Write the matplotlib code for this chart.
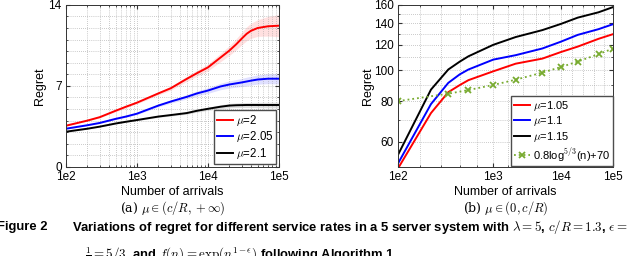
import numpy as np
import matplotlib
matplotlib.use("Agg")
import matplotlib.pyplot as plt
from matplotlib.ticker import FixedLocator, NullFormatter

plt.rcParams["font.family"] = ["Liberation Sans", "DejaVu Sans"]
plt.rcParams["mathtext.fontset"] = "cm"

# ---- left panel: mu in (c/R, +inf) ----
n_left = [100, 200, 300, 500, 700, 1000, 2000, 3000, 5000, 7000, 10000, 15000,
          20000, 25000, 30000, 35000, 40000, 50000, 70000, 100000]
reg_mu2 = [3.56, 4.0, 4.3, 4.85, 5.2, 5.55, 6.35, 6.8, 7.6, 8.1, 8.6, 9.45,
           10.05, 10.6, 11.1, 11.5, 11.75, 12.0, 12.15, 12.2]
err_mu2 = [0.04, 0.05, 0.06, 0.08, 0.09, 0.1, 0.14, 0.17, 0.22, 0.26, 0.3, 0.36,
           0.42, 0.48, 0.54, 0.6, 0.65, 0.72, 0.85, 0.95]
reg_mu205 = [3.3, 3.6, 3.8, 4.15, 4.35, 4.6, 5.3, 5.65, 6.05, 6.35, 6.6, 6.95,
             7.12, 7.22, 7.3, 7.38, 7.45, 7.55, 7.62, 7.62]
err_mu205 = [0.03, 0.04, 0.05, 0.06, 0.07, 0.08, 0.11, 0.14, 0.18, 0.21, 0.24, 0.28,
             0.31, 0.33, 0.35, 0.37, 0.38, 0.4, 0.43, 0.45]
reg_mu21 = [3.04, 3.3, 3.48, 3.75, 3.9, 4.05, 4.35, 4.48, 4.65, 4.85, 5.02, 5.2,
            5.3, 5.33, 5.34, 5.35, 5.35, 5.35, 5.35, 5.35]
err_mu21 = [0.02, 0.03, 0.03, 0.04, 0.05, 0.05, 0.07, 0.08, 0.1, 0.12, 0.14, 0.17,
            0.19, 0.2, 0.21, 0.22, 0.22, 0.23, 0.24, 0.25]

# ---- right panel: mu in (0, c/R) ----
n_right = [100, 200, 300, 400, 500, 1000, 2000, 5000, 10000, 20000, 50000, 100000]
reg_mu105 = [49.5, 73.6, 85.5, 90.0, 93.2, 99.3, 104.9, 108.8, 114.0, 118.6, 125.4, 129.7]
reg_mu11 = [51.3, 78.5, 91.4, 97.2, 100.6, 108.0, 111.5, 117.0, 122.8, 129.0, 134.4, 139.3]
reg_mu115 = [54.6, 87.1, 100.6, 106.5, 110.6, 120.1, 127.0, 133.5, 139.5, 146.0, 151.7, 157.5]
n_bound = [100, 300, 500, 1000, 2000, 5000, 10000, 20000, 50000, 100000]
reg_bound = [80.19, 84.57, 86.81, 90.04, 93.50, 98.42, 102.36, 106.52, 112.34, 116.94]

tick_labels = ["1e2", "1e3", "1e4", "1e5"]
green = (0.47, 0.67, 0.19)
grid_kw = dict(color="0.6", linestyle=(0, (1, 2)), linewidth=0.5)

fig = plt.figure(figsize=(6.4, 2.56), dpi=100)
ax1 = fig.add_axes([0.103, 0.348, 0.333, 0.633])
ax2 = fig.add_axes([0.622, 0.348, 0.336, 0.633])

# left
for y, e, c, lab in [(reg_mu2, err_mu2, "red", r"$\mu$=2"),
                     (reg_mu205, err_mu205, "blue", r"$\mu$=2.05"),
                     (reg_mu21, err_mu21, "black", r"$\mu$=2.1")]:
    y = np.array(y)
    e = np.array(e)
    ax1.fill_between(n_left, y - e, y + e, color=c, alpha=0.12, linewidth=0)
    ax1.plot(n_left, y, color=c, linewidth=1.4, label=lab)
ax1.set_xscale("log")
ax1.set_xlim(1e2, 1e5)
ax1.set_ylim(0, 14)
ax1.set_xticks([1e2, 1e3, 1e4, 1e5])
ax1.set_xticklabels(tick_labels)
ax1.set_yticks([0, 7, 14])
ax1.yaxis.set_minor_locator(FixedLocator(np.arange(1, 14)))
ax1.grid(True, which="both", **grid_kw)
ax1.set_xlabel("Number of arrivals", fontsize=9, labelpad=2)
ax1.set_ylabel("Regret", fontsize=9, labelpad=2)
ax1.legend(loc="lower right", fontsize=8.3, handlelength=1.4, borderaxespad=0.25,
           fancybox=False, edgecolor="0.3", framealpha=1, borderpad=0.25,
           labelspacing=0.15, handletextpad=0.2)

# right (x-axis drawn against log10(n) on a log scale)
lx = np.log10(n_right)
ax2.plot(lx, reg_mu105, color="red", linewidth=1.4, label=r"$\mu$=1.05")
ax2.plot(lx, reg_mu11, color="blue", linewidth=1.4, label=r"$\mu$=1.1")
ax2.plot(lx, reg_mu115, color="black", linewidth=1.4, label=r"$\mu$=1.15")
ax2.plot(np.log10(n_bound), reg_bound, color=green, linestyle=":", linewidth=1.3,
         marker="x", markersize=5, markeredgewidth=1.3,
         label=r"0.8log$^{\mathsf{5/3}}$(n)+70")
ax2.set_xscale("log")
ax2.set_yscale("log")
ax2.set_xlim(2, 5)
ax2.set_ylim(50, 160)
ax2.xaxis.set_major_locator(FixedLocator([2, 3, 4, 5]))
ax2.set_xticklabels(tick_labels)
ax2.xaxis.set_minor_locator(FixedLocator([2.2, 2.4, 2.6, 2.8, 3.2, 3.4, 3.6, 3.8,
                                          4.2, 4.4, 4.6, 4.8]))
ax2.xaxis.set_minor_formatter(NullFormatter())
ax2.yaxis.set_major_locator(FixedLocator([60, 80, 100, 120, 140, 160]))
ax2.set_yticklabels(["60", "80", "100", "120", "140", "160"])
ax2.yaxis.set_minor_locator(FixedLocator(np.arange(50, 161, 10)))
ax2.yaxis.set_minor_formatter(NullFormatter())
ax2.grid(True, which="both", **grid_kw)
ax2.set_xlabel("Number of arrivals", fontsize=9, labelpad=2)
ax2.set_ylabel("Regret", fontsize=9, labelpad=0)
ax2.legend(loc="lower right", fontsize=8.0, handlelength=1.5, borderaxespad=0.05,
           fancybox=False, edgecolor="0.3", framealpha=1, borderpad=0.25,
           labelspacing=0.15, handletextpad=0.2)

for ax in (ax1, ax2):
    ax.tick_params(which="both", direction="in", labelsize=8.5, color="0.2",
                   top=True, right=True, pad=3)
    ax.tick_params(which="major", length=3)
    ax.tick_params(which="minor", length=1.5)
    for s in ax.spines.values():
        s.set_color("0.2")
        s.set_linewidth(0.7)

# captions
fig.text(0.27, 0.187, r"(a) $\mu \in (c/R, +\infty)$", ha="center", va="center",
         fontsize=9, family="DejaVu Serif")
fig.text(0.79, 0.187, r"(b) $\mu \in (0, c/R)$", ha="center", va="center",
         fontsize=9, family="DejaVu Serif")
fig.text(-0.005, 0.113, "Figure 2", ha="left", va="center", fontsize=9.4, fontweight="bold")
fig.text(0.1125, 0.113, r"Variations of regret for different service rates in a 5 server system with "
         r"$\lambda = 5$, $c/R = 1.3$, $\epsilon =$", ha="left", va="center",
         fontsize=9.4, fontweight="bold")
fig.text(0.133, 0.006, r"$\frac{1}{\epsilon} = 5/3$, and $f(n) = \exp(n^{1-\epsilon})$ following Algorithm 1",
         ha="left", va="center", fontsize=9.4, fontweight="bold")

fig.savefig("out.png", dpi=100)
